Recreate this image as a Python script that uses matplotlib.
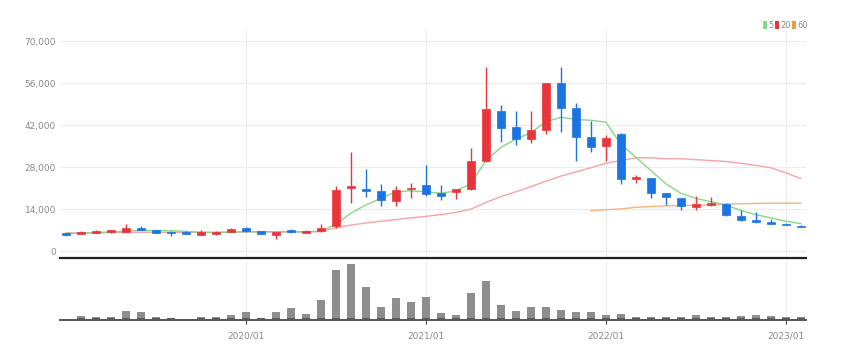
import numpy as np
import matplotlib
matplotlib.use("Agg")
import matplotlib.pyplot as plt
from matplotlib import font_manager
from matplotlib.patches import Rectangle

# narrow face for the axis labels, if one is installed
installed = {f.name for f in font_manager.fontManager.ttflist}
if "Liberation Sans Narrow" in installed:
    LABEL_FONT, LABEL_SIZE = "Liberation Sans Narrow", 8.0
else:
    LABEL_FONT, LABEL_SIZE = "DejaVu Sans", 6.5
plt.rcParams["font.family"] = [LABEL_FONT, "DejaVu Sans"]

# ───────────────────────────── data (monthly, 2019/01 – 2023/02) ─────────────
months = [f"{y}/{m:02d}" for y in range(2019, 2024) for m in range(1, 13)][:50]

opens = [6100, 5800, 6100, 6400, 6600, 7900, 7100, 6600, 6600, 5600,
         5700, 6500, 7800, 6700, 5600, 7200, 6300, 6800, 8400, 21000,
         20700, 20100, 16800, 20700, 22100, 19400, 19900, 20800, 30000, 46700,
         41500, 37400, 40500, 56300, 47800, 38200, 35200, 39300, 24200, 24500,
         19400, 17700, 14800, 15500, 15800, 11900, 10400, 9800, 9300, 8600]
highs = [6300, 6900, 7000, 7300, 9200, 8600, 7200, 6700, 6700, 7200,
         6800, 7700, 8000, 6900, 6600, 7400, 7000, 9300, 21900, 33000,
         27600, 22400, 21800, 22900, 28900, 22100, 20900, 34500, 61500, 48700,
         46700, 46700, 56300, 61500, 49500, 43400, 38800, 39600, 25400, 24600,
         19500, 17800, 18500, 18300, 16100, 13900, 13300, 10800, 9600, 8900]
lows = [5300, 5700, 6000, 6300, 6500, 7000, 6000, 5000, 5700, 5500,
        5600, 6400, 6600, 5700, 4100, 6200, 6200, 6600, 7900, 16100,
        18300, 15200, 15200, 17700, 18500, 17200, 17400, 20500, 29800, 36500,
        35400, 36000, 39100, 39800, 30300, 33000, 30000, 22600, 22900, 17700,
        15500, 13900, 13900, 15000, 11900, 10300, 9600, 9100, 8700, 8100]
closes = [5500, 6500, 6800, 7200, 7800, 7100, 6200, 6200, 5800, 6400,
          6600, 7600, 6700, 5800, 6400, 6500, 6800, 7700, 20500, 21800,
          20000, 17200, 20500, 21300, 19100, 18600, 20700, 30300, 47500, 41200,
          37400, 40500, 56000, 47800, 38300, 34900, 37700, 24300, 24700, 19600,
          18300, 15000, 15800, 16100, 12000, 10400, 9700, 9200, 8800, 8200]

ma5 = [6000, 6100, 6300, 6500, 6800, 7000, 7000, 6900, 6700, 6400,
       6300, 6400, 6600, 6600, 6600, 6600, 6500, 6800, 9000, 12800,
       15500, 17700, 19900, 20200, 19900, 19400, 20200, 22600, 30300, 34700,
       37400, 39600, 43200, 44700, 44000, 43700, 43100, 35800, 31400, 27000,
       22600, 19400, 17700, 16600, 15500, 13700, 12300, 11200, 10100, 9300]
ma20 = [6200, 6200, 6200, 6300, 6300, 6400, 6400, 6400, 6400, 6400,
        6400, 6500, 6500, 6500, 6500, 6500, 6500, 6600, 7900, 8800,
        9500, 10100, 10600, 11200, 11700, 12300, 13000, 14100, 16300, 18300,
        19900, 21600, 23400, 25100, 26500, 27900, 29400, 30300, 31200, 31200,
        30900, 30900, 30600, 30300, 30000, 29400, 28700, 27900, 26200, 24300]
ma60 = [np.nan] * 35 + [13600, 13900, 14200, 14700, 15000, 15200, 15300, 15400,
                        15500, 15800, 15900, 16000, 16100, 16100, 16100]

volume = [3, 12, 8, 8, 27, 22, 9, 7, 3, 9,
          9, 14, 22, 7, 22, 33, 18, 56, 144, 161,
          95, 36, 62, 51, 67, 19, 14, 77, 111, 43,
          27, 36, 36, 28, 23, 23, 13, 18, 8, 9,
          9, 9, 14, 9, 9, 12, 14, 12, 9, 9]

yticks = [0, 14000, 28000, 42000, 56000, 70000]
xtick_labels = ["2020/01", "2021/01", "2022/01", "2023/01"]

# ───────────────────────────── styling ───────────────────────────────────────
UP = "#e8353c"
DOWN = "#1a74e4"
C5 = "#86d884"
C20 = "#f6a3a9"
C60 = "#f7b37a"
GRID = "#ececec"
TXT = "#8a8a8a"

W, H = 842, 359
fig = plt.figure(figsize=(W / 100, H / 100), dpi=100)

def px_axes(left, top, right, bottom):
    return fig.add_axes([left / W, 1 - bottom / H, (right - left) / W, (bottom - top) / H])

x = np.arange(len(months))
xlim = (-0.4, 49.35)
tick_pos = [months.index(t) for t in xtick_labels]

# ───────────────────────────── price panel ───────────────────────────────────
ax = px_axes(60, 30, 806, 258)
ax.set_xlim(*xlim)
ax.set_ylim(-2170, 73800)

for yv in yticks:
    ax.axhline(yv, color=GRID, lw=0.8, zorder=0)
for tp in tick_pos:
    ax.axvline(tp, color=GRID, lw=0.8, zorder=0)

ax.plot(x, ma20, color=C20, lw=1.0, zorder=2)
ax.plot(x, ma60, color=C60, lw=1.0, zorder=2)
ax.plot(x, ma5, color=C5, lw=1.0, zorder=2)

bw = 0.55
for i in range(len(months)):
    o, h, l, c = opens[i], highs[i], lows[i], closes[i]
    col = UP if c >= o else DOWN
    ax.vlines(i, l, h, color=col, lw=1.0, zorder=3)
    lo, hi = min(o, c), max(o, c)
    ax.add_patch(Rectangle((i - bw / 2, lo), bw, max(hi - lo, 250),
                           facecolor=col, edgecolor=col, lw=0.5, zorder=4))

ax.set_yticks(yticks)
ax.set_yticklabels([f"{v:,}" for v in yticks], fontsize=LABEL_SIZE, color=TXT)
ax.tick_params(axis="y", length=0, pad=3)
ax.set_xticks([])
for s in ["top", "right", "left"]:
    ax.spines[s].set_visible(False)
ax.spines["bottom"].set_color("#222222")
ax.spines["bottom"].set_linewidth(1.6)
ax.patch.set_alpha(0)

# ───────────────────────────── volume panel ──────────────────────────────────
vax = px_axes(60, 262, 806, 320)
vax.set_xlim(*xlim)
vax.set_ylim(0, max(volume) * 1.03)
for tp in tick_pos:
    vax.axvline(tp, color=GRID, lw=0.8, zorder=0)
vax.bar(x, volume, width=0.55, color="#8e8e8e", zorder=2)
vax.bar(x, [min(v, 5) for v in volume], width=0.55, color="#5a5a5a", zorder=3)
vax.set_yticks([])
vax.set_xticks(tick_pos)
vax.set_xticklabels(xtick_labels, fontsize=LABEL_SIZE, color=TXT)
vax.tick_params(axis="x", length=3, color="#444444", pad=5)
for s in ["top", "right", "left"]:
    vax.spines[s].set_visible(False)
vax.spines["bottom"].set_color("#555555")
vax.spines["bottom"].set_linewidth(1.4)
vax.patch.set_alpha(0)

# ───────────────────────────── legend ────────────────────────────────────────
leg_items = [(763, C5, "5"), (775, UP, "20"), (792, "#f39a3c", "60")]
for lx, col, lab in leg_items:
    fig.patches.append(Rectangle((lx / W, 1 - 29 / H), 3.5 / W, 8 / H,
                                 transform=fig.transFigure, facecolor=col,
                                 edgecolor="none"))
    fig.text((lx + 5) / W, 1 - 25 / H, lab, fontsize=LABEL_SIZE - 0.5, color=TXT,
             va="center", ha="left")

fig.savefig("out.png", dpi=100)
